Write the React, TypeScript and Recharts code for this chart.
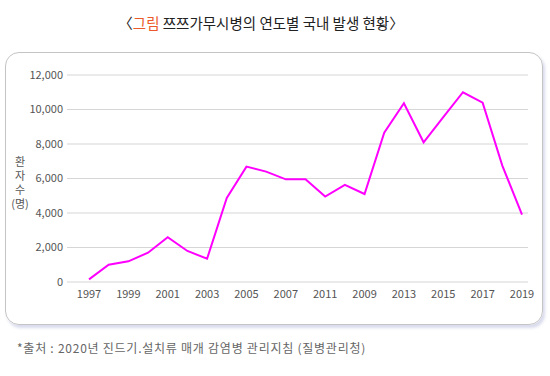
import { CartesianGrid, Line, LineChart, XAxis, YAxis } from "recharts";

const YEARS = [
  "1997", "1998", "1999", "2000", "2001", "2002", "2003", "2004",
  "2005", "2006", "2007", "2008", "2009", "2010", "2011", "2012",
  "2013", "2014", "2015", "2016", "2017", "2018", "2019"
];
const PATIENTS = [
  150, 1000, 1200, 1700, 2600, 1800, 1350, 4870,
  6690, 6400, 5950, 5950, 4950, 5630, 5100, 8660,
  10360, 8100, 9560, 11000, 10400, 6750, 3900
];
// labels as printed under the axis (every second year)
const TICK_LABELS = [
  "1997", "1999", "2001", "2003", "2005", "2007",
  "2011", "2009", "2013", "2015", "2017", "2019"
];
const Y_TICKS = [0, 2000, 4000, 6000, 8000, 10000, 12000];

const FONT = '"Noto Sans CJK KR", "Noto Sans", sans-serif';

export default function App() {
  const data = YEARS.map((year, i) => ({ year, value: PATIENTS[i] }));
  const xTicks = YEARS.filter((_, i) => i % 2 === 0);

  return (
    <div
      style={{
        position: "absolute",
        left: 0,
        top: 0,
        width: 550,
        height: 376,
        background: "#fff",
        fontFamily: FONT,
        overflow: "hidden"
      }}
    >
      <div
        style={{
          position: "absolute",
          left: 0,
          top: 12,
          width: 522,
          textAlign: "center",
          fontSize: 14.5,
          color: "#222",
          whiteSpace: "nowrap"
        }}
      >
        〈<span style={{ color: "#ec5a2c" }}>그림</span> 쯔쯔가무시병의 연도별 국내 발생 현황〉
      </div>

      <div
        style={{
          position: "absolute",
          left: 5,
          top: 52,
          width: 536,
          height: 271,
          border: "1px solid #c4c4c4",
          borderRadius: 14,
          boxShadow: "2px 3px 3px rgba(170,175,215,0.45)"
        }}
      />

      <div
        style={{
          position: "absolute",
          left: 12,
          top: 154,
          width: 16,
          textAlign: "center",
          fontSize: 11,
          lineHeight: "14px",
          color: "#555"
        }}
      >
        <div>환</div>
        <div>자</div>
        <div>수</div>
        <div style={{ marginLeft: -4, marginRight: -4 }}>(명)</div>
      </div>

      <div style={{ position: "absolute", left: 0, top: 0 }}>
        <LineChart
          width={550}
          height={376}
          data={data}
          margin={{ top: 75, right: 22, bottom: 64, left: 7 }}
        >
          <CartesianGrid vertical={false} stroke="#d6d6d6" strokeWidth={1.2} />
          <XAxis
            dataKey="year"
            ticks={xTicks}
            interval={0}
            tickFormatter={(v: string) => TICK_LABELS[xTicks.indexOf(v)]}
            axisLine={false}
            tickLine={false}
            tickSize={4}
            tickMargin={4}
            padding={{ left: 22, right: 6 }}
            tick={{ fontSize: 11, fill: "#555", fontFamily: FONT }}
          />
          <YAxis
            width={60}
            domain={[0, 12000]}
            ticks={Y_TICKS}
            interval={0}
            axisLine={false}
            tickLine={false}
            tickSize={2}
            tickMargin={2}
            tickFormatter={(v: number) => v.toLocaleString("en-US")}
            tick={{ fontSize: 11, fill: "#555", fontFamily: FONT }}
          />
          <Line
            type="linear"
            dataKey="value"
            stroke="#ff00ff"
            strokeWidth={2}
            dot={false}
            isAnimationActive={false}
          />
        </LineChart>
      </div>

      <div
        style={{
          position: "absolute",
          left: 17,
          top: 339,
          fontSize: 12,
          letterSpacing: 0.75,
          color: "#666",
          whiteSpace: "nowrap"
        }}
      >
        *출처 : 2020년 진드기.설치류 매개 감염병 관리지침 (질병관리청)
      </div>
    </div>
  );
}
